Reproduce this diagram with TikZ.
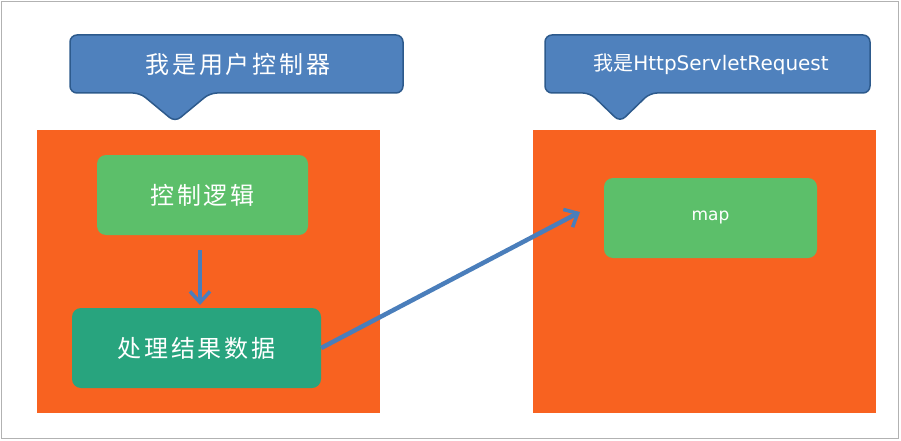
\documentclass[tikz,border=0pt]{standalone}
\usepackage{fontspec}
\newfontfamily\cjk[LetterSpace=12]{Noto Sans CJK SC}
\newfontfamily\cjkn{Noto Sans CJK SC}
\setmainfont{DejaVu Sans}
\usetikzlibrary{arrows.meta}
\definecolor{org}{HTML}{F86220}
\definecolor{blu}{HTML}{4F81BD}
\definecolor{bld}{HTML}{2D5A8C}
\definecolor{gr1}{HTML}{5CBF6A}
\definecolor{gr2}{HTML}{28A47E}
\definecolor{arr}{HTML}{4A7EBB}
\begin{document}
\begin{tikzpicture}[x=1pt,y=-1pt,
  panel/.style={fill=org,draw=none},
  gbox/.style={rounded corners=9pt,draw=none,text=white,font=\cjk\fontsize{24}{26}\selectfont},
  call/.style={fill=blu,draw=bld,line width=1.5pt,rounded corners=7pt},
  link/.style={draw=arr,line width=4.5pt,-{Straight Barb[length=11pt,width=20pt,line width=3.5pt]}}]
\useasboundingbox (0,0) rectangle (901,441);
\draw[gray!60,line width=1pt] (1.5,1.5) rectangle (898.5,438.5);
\fill[panel] (37,130) rectangle (380,413);
\fill[panel] (533,130) rectangle (876,413);
% callouts
\draw[call] (70,35) -- (403,35) -- (403,93) -- (210,93) -- (175,122) -- (140,93) -- (70,93) -- cycle;
\node[text=white,font=\cjk\fontsize{24}{26}\selectfont] (c1) at (238,64) {我是用户控制器};
\draw[call] (545,35) -- (870,35) -- (870,93) -- (650,93) -- (620,122) -- (590,93) -- (545,93) -- cycle;
\node[text=white,font=\fontsize{20}{25}\selectfont] (c2) at (711,64) {{\cjkn 我是}HttpServletRequest};
% boxes
\node[gbox,fill=gr1,minimum width=211pt,minimum height=80pt] (a) at (202.5,195) {控制逻辑};
\node[gbox,fill=gr2,minimum width=249pt,minimum height=80pt] (b) at (196.5,348) {处理结果数据};
\node[gbox,fill=gr1,minimum width=213pt,minimum height=80pt,font=\fontsize{17}{20}\selectfont] (m) at (710.5,218) {map};
\draw[link] (200,250) -- (200,305);
\draw[link] (b.east) -- (580,212);
\end{tikzpicture}
\end{document}
